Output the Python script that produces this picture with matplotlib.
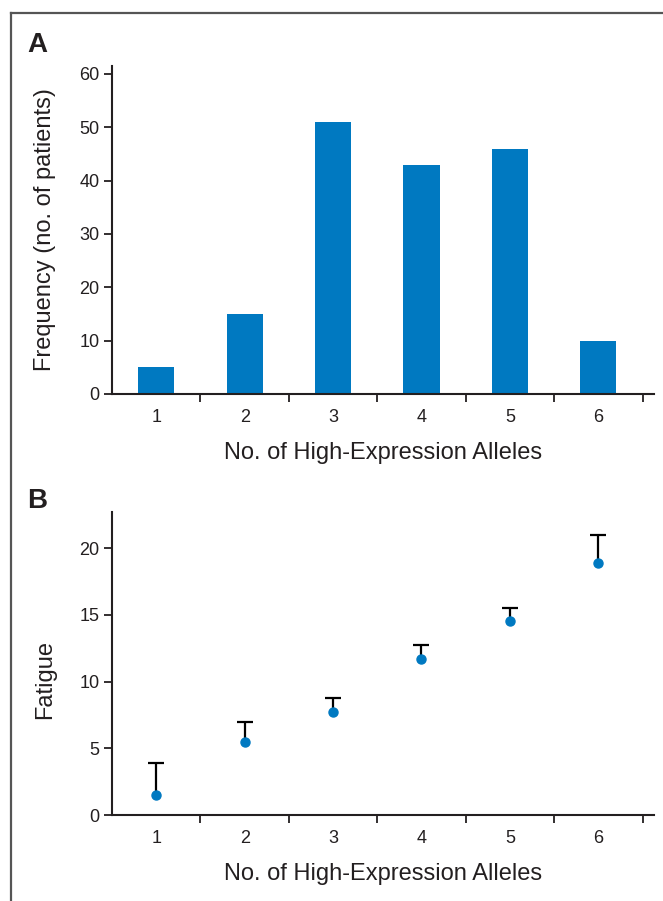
import matplotlib
matplotlib.use("Agg")
import matplotlib.pyplot as plt
from matplotlib.lines import Line2D

plt.rcParams['font.family'] = ['Liberation Sans', 'DejaVu Sans']

# data
alleles = [1, 2, 3, 4, 5, 6]
tick_labels = ["1", "2", "3", "4", "5", "6"]
patients = [5, 15, 51, 43, 46, 10]
fatigue_mean = [1.5, 5.5, 7.7, 11.7, 14.5, 18.9]
fatigue_err = [2.4, 1.5, 1.1, 1.05, 1.0, 2.1]

blue = "#0079c1"
ink = "#231f20"

fig = plt.figure(figsize=(6.63, 9.01), dpi=100)

# frame lines (top and left only)
fig.add_artist(Line2D([11 / 663, 1.0], [1 - 13 / 901, 1 - 13 / 901],
                      transform=fig.transFigure, color="#555555", lw=1.6))
fig.add_artist(Line2D([11 / 663, 11 / 663], [0.0, 1 - 13 / 901],
                      transform=fig.transFigure, color="#555555", lw=1.6))


def style(ax):
    for s in ("top", "right"):
        ax.spines[s].set_visible(False)
    for s in ("left", "bottom"):
        ax.spines[s].set_linewidth(1.5)
        ax.spines[s].set_color(ink)
    ax.set_xlim(0.5, 6.63)
    # ticks between categories, labels under categories
    ax.set_xticks([a + 0.5 for a in alleles])
    ax.set_xticklabels([])
    ax.set_xticks(alleles, minor=True)
    ax.set_xticklabels(tick_labels, minor=True)
    ax.tick_params(axis="x", which="major", direction="out", length=6, width=1.3, color=ink)
    ax.tick_params(axis="x", which="minor", length=0, pad=11, labelsize=13, labelcolor=ink)
    ax.tick_params(axis="y", direction="out", length=6, width=1.3, color=ink,
                   labelsize=13, labelcolor=ink, pad=3)
    ax.set_xlabel("No. of High-Expression Alleles", fontsize=17, color=ink, labelpad=11)


# panel A
axA = fig.add_axes([112 / 663, 1 - 394 / 901, 542 / 663, 328 / 901])
axA.bar(alleles, patients, width=0.41, color=blue)
axA.set_ylim(0, 61.5)
axA.set_yticks([0, 10, 20, 30, 40, 50, 60])
style(axA)
axA.set_ylabel("Frequency (no. of patients)", fontsize=17, color=ink)
axA.yaxis.set_label_coords(-0.103, 0.5)
fig.text(27 / 663, 1 - 52 / 901, "A", fontsize=20, fontweight="bold", color=ink)

# panel B
axB = fig.add_axes([112 / 663, 1 - 815 / 901, 542 / 663, 303 / 901])
_, caps, _ = axB.errorbar(alleles, fatigue_mean, yerr=[[0] * 6, fatigue_err], fmt="o",
                          color=blue, ms=6.5, ecolor="black", elinewidth=1.6, capsize=6,
                          capthick=1.6, zorder=3)
caps[0].set_visible(False)  # only the upper cap
axB.set_ylim(0, 22.7)
axB.set_yticks([0, 5, 10, 15, 20])
style(axB)
axB.set_ylabel("Fatigue", fontsize=17, color=ink)
axB.yaxis.set_label_coords(-0.103, 0.446)
fig.text(27 / 663, 1 - 508 / 901, "B", fontsize=20, fontweight="bold", color=ink)

fig.savefig("out.png", dpi=100)
